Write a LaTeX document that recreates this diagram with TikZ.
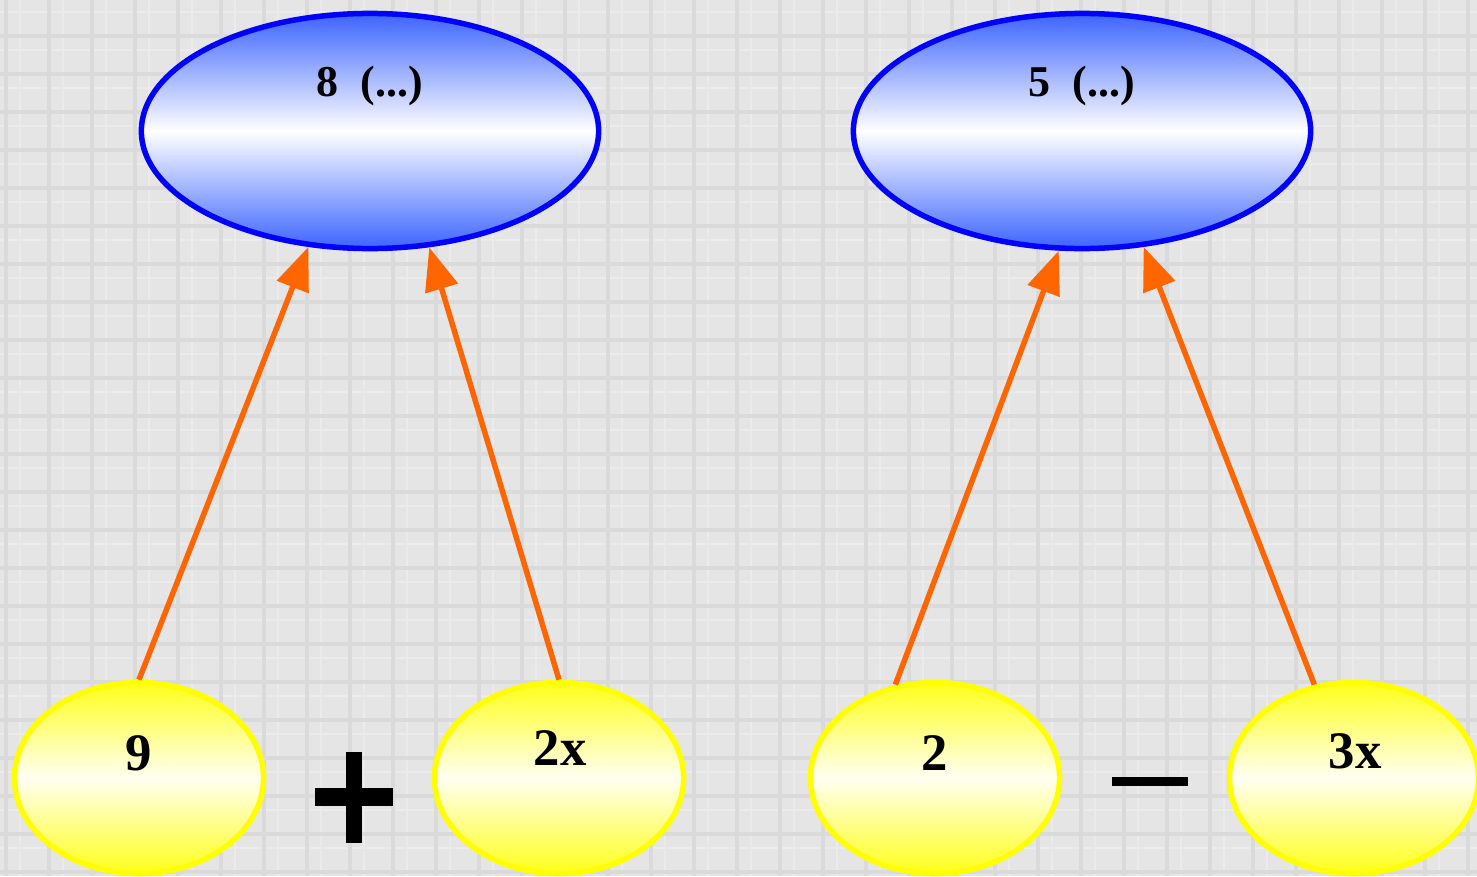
\documentclass[tikz,border=0pt]{standalone}
\usepackage{fontspec}
\setmainfont{Liberation Serif}
\usetikzlibrary{arrows.meta,shapes.geometric}
\definecolor{bgc}{RGB}{229,229,229}
\definecolor{gridc}{RGB}{218,218,218}
\definecolor{gridf}{RGB}{235,235,235}
\definecolor{bluebd}{RGB}{0,0,255}
\definecolor{bluefl}{RGB}{60,100,255}
\definecolor{yelbd}{RGB}{255,255,0}
\definecolor{yelfl}{RGB}{255,255,25}
\definecolor{yelmid}{RGB}{255,255,242}
\definecolor{arrc}{RGB}{255,102,0}
\begin{document}
\begin{tikzpicture}[x=0.01cm,y=-0.01cm,
 blueell/.style={ellipse, draw=bluebd, line width=0.055cm, top color=bluefl, bottom color=bluefl, middle color=white, minimum width=4.57cm, minimum height=2.35cm, inner sep=0pt},
 yelell/.style={ellipse, draw=yelbd, line width=0.055cm, top color=yelfl, bottom color=yelfl, middle color=yelmid, minimum width=2.49cm, minimum height=1.91cm, inner sep=0pt},
 bluetxt/.style={anchor=base, font=\fontsize{12.5}{15}\selectfont\bfseries, inner sep=0pt},
 yeltxt/.style={anchor=base, font=\fontsize{15}{18}\selectfont\bfseries, inner sep=0pt},
 conn/.style={draw=arrc, line width=0.055cm, -{Triangle[length=0.43cm,width=0.33cm]}},
 gridline/.style={draw=gridc, line width=0.035cm},
 gridfine/.style={draw=gridf, line width=0.02cm},
 opsign/.style={fill=black}
]
\clip (0,0) rectangle (1477,876);
\fill[bgc] (0,0) rectangle (1477,876);
% background grid texture
\foreach \x in {20,63,...,1477} \draw[gridfine] (\x,0) -- (\x,876);
\foreach \y in {12,50,...,876} \draw[gridfine] (0,\y) -- (1477,\y);
\foreach \x in {6,49,...,1477} \draw[gridline] (\x,0) -- (\x,876);
\foreach \y in {-2,36,...,876} \draw[gridline] (0,\y) -- (1477,\y);

% top ellipses
\node[blueell] (b1) at (370,131) {};
\node[blueell] (b2) at (1082,131) {};
\node[bluetxt] (tb1) at (370,97) {8\ \ (...)};
\node[bluetxt] (tb2) at (1082,97) {5\ \ (...)};

% bottom ellipses
\node[yelell] (y1) at (139,778) {};
\node[yelell] (y2) at (559,778) {};
\node[yelell] (y3) at (935,778) {};
\node[yelell] (y4) at (1354,778) {};
\node[yeltxt] (ty1) at (139,770) {9};
\node[yeltxt] (ty2) at (560,765) {2x};
\node[yeltxt] (ty3) at (935,770) {2};
\node[yeltxt] (ty4) at (1355,768) {3x};

% operators
\fill[opsign] (346,752) rectangle (362,843);
\fill[opsign] (315,788) rectangle (393,806);
\fill[opsign] (1112,777) rectangle (1188,786);

% connectors
\draw[conn] (y1.north) -- (b1.242.5);
\draw[conn] (y2.north) -- (b1.297.3);
\draw[conn] (y3.113.3) -- (b2.259.8);
\draw[conn] (y4.113.3) -- (b2.298);
\end{tikzpicture}
\end{document}
